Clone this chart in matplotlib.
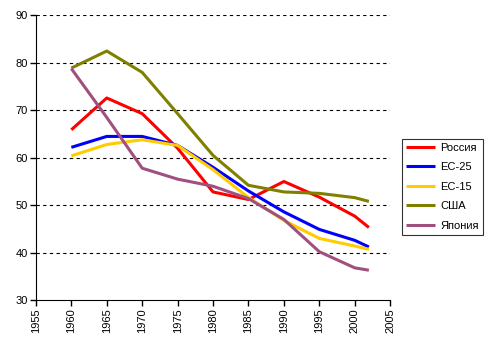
import matplotlib.pyplot as plt

plt.rcParams["font.family"] = ["Liberation Sans", "DejaVu Sans"]

years = [1960, 1965, 1970, 1975, 1980, 1985, 1990, 1995, 2000, 2002]

russia = [65.9, 72.6, 69.3, 62.0, 52.8, 51.2, 55.0, 51.7, 47.7, 45.3]
eu25 = [62.2, 64.5, 64.5, 62.6, 58.0, 53.0, 48.6, 44.9, 42.6, 41.2]
eu15 = [60.4, 62.8, 63.8, 62.6, 57.5, 51.6, 46.8, 43.0, 41.4, 40.7]
usa = [78.9, 82.5, 78.0, 69.3, 60.5, 54.2, 52.8, 52.5, 51.6, 50.8]
japan = [78.8, 68.5, 57.8, 55.5, 54.0, 51.4, 47.0, 40.2, 36.8, 36.3]

labels = ["Россия", "ЕС-25", "ЕС-15", "США", "Япония"]
colors = ["#ff0000", "#0000ff", "#ffcc00", "#808000", "#a0507f"]

fig = plt.figure(figsize=(4.92, 3.51), dpi=100)
ax = fig.add_axes([0.073, 0.145, 0.72, 0.811])

for series, label, color in zip([russia, eu25, eu15, usa, japan], labels, colors):
    ax.plot(years, series, color=color, lw=2.2, label=label,
            solid_joinstyle="round", solid_capstyle="butt")

ax.set_xlim(1955, 2005)
ax.set_ylim(30, 90)
ax.set_xticks(range(1955, 2006, 5))
ax.set_yticks(range(30, 91, 10))
ax.tick_params(axis="x", labelrotation=90)
ax.tick_params(labelsize=8, length=4, width=1, direction="out", pad=2)

# dashed gridlines, none at the bottom
for y in range(40, 91, 10):
    ax.axhline(y, color="black", lw=0.8, ls=(0, (3, 3)), zorder=0)

ax.spines["top"].set_visible(False)
ax.spines["right"].set_visible(False)

leg = ax.legend(loc="upper left", bbox_to_anchor=(0.817, 0.604),
                bbox_transform=fig.transFigure, borderaxespad=0,
                fontsize=8, frameon=True, fancybox=False, handlelength=2.6,
                labelspacing=0.85, borderpad=0.35, handletextpad=0.5)
leg.get_frame().set_edgecolor("black")
leg.get_frame().set_linewidth(0.8)

fig.savefig("out.png", dpi=100)
